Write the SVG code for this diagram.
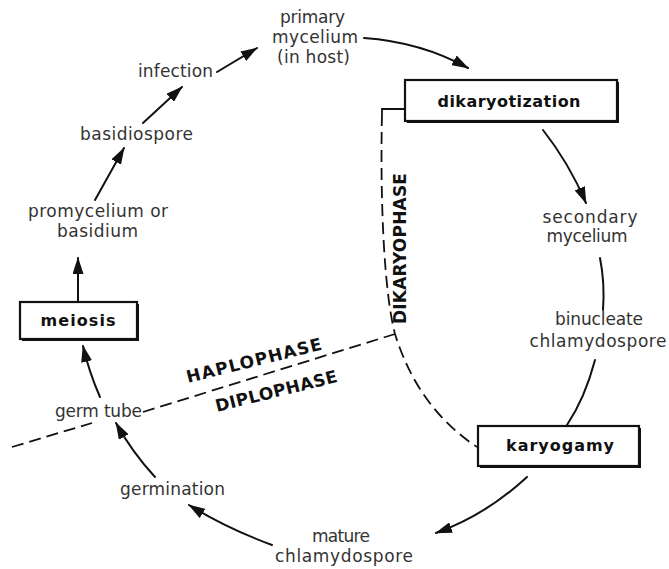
<svg xmlns="http://www.w3.org/2000/svg" width="669" height="569" viewBox="0 0 669 569">
<style>
.t{font-family:"DejaVu Sans","Liberation Sans",sans-serif;font-size:17px;fill:#333;text-anchor:middle}
.b{font-family:"DejaVu Sans","Liberation Sans",sans-serif;font-size:16px;font-weight:bold;fill:#111;text-anchor:middle}
.ph{font-family:"DejaVu Sans","Liberation Sans",sans-serif;font-size:17px;font-weight:bold;fill:#111}
.box{fill:#fff;stroke:#111;stroke-width:2.2}
.sh{fill:none;stroke:#111;stroke-width:2}
.c{fill:none;stroke:#111;stroke-width:2;stroke-linecap:round}
.a{marker-end:url(#ah)}
.d{fill:none;stroke:#111;stroke-width:1.8;stroke-dasharray:12 6}
</style>
<defs>
<marker id="ah" viewBox="0 0 17 11" refX="16" refY="5.5" markerWidth="17" markerHeight="11" markerUnits="userSpaceOnUse" orient="auto">
<path d="M0,0 L17,5.5 L0,11 z" fill="#111"/>
</marker>
</defs>
<rect width="669" height="569" fill="#fff"/>

<g id="connectors">
<path class="c a" d="M217,72 L257,48"/>
<path class="c a" d="M143,123 L182,87"/>
<path class="c a" d="M95,200 L124,148"/>
<path class="c a" d="M78,301 L78,258"/>
<path class="c a" d="M100,397 Q89,372 83,346"/>
<path class="c a" d="M155,477 Q132,452 116,423"/>
<path class="c a" d="M272,545 Q226,528 189,505"/>
<path class="c a" d="M527,477 Q486,515 436,533"/>
<path class="c" d="M595,360 Q585,398 567,425"/>
<path class="c" d="M600,258 Q605,283 603,310"/>
<path class="c a" d="M543,130 Q569,163 586,203"/>
<path class="c a" d="M364,38 Q421,42 468,68"/>
<path class="d" d="M12,447 L92,423"/>
<path class="d" d="M143,412 L395,334"/>
<path d="M405,109 L382,109 L382,114" fill="none" stroke="#111" stroke-width="1.8"/>
<path class="d" d="M382,114 C380,200 384,292 395,334 Q418,408 477,447"/>
</g>

<g id="primary-mycelium">
<text class="t" x="312.5" y="23" textLength="65">primary</text>
<text class="t" x="315" y="43" textLength="86">mycelium</text>
<text class="t" x="313.5" y="63" textLength="73">(in host)</text>
</g>
<g id="infection"><text class="t" x="175.5" y="77" textLength="75">infection</text></g>
<g id="basidiospore"><text class="t" x="136.5" y="140" textLength="113">basidiospore</text></g>
<g id="promycelium">
<text class="t" x="98" y="217" textLength="140">promycelium or</text>
<text class="t" x="97.5" y="237" textLength="81">basidium</text>
</g>
<g id="meiosis">
<rect class="box" x="20" y="302" width="117" height="37"/>
<path class="sh" d="M138,304 L138,340 L22,340"/>
<text class="b" x="78" y="326" textLength="75">meiosis</text>
</g>
<g id="germ-tube"><text class="t" x="98.5" y="417" textLength="87">germ tube</text></g>
<g id="germination"><text class="t" x="172.5" y="495" textLength="105">germination</text></g>
<g id="mature-chlamydospore">
<text class="t" x="341" y="542" textLength="58">mature</text>
<text class="t" x="344" y="562" textLength="138">chlamydospore</text>
</g>
<g id="karyogamy">
<rect class="box" x="478" y="426" width="161" height="40"/>
<path class="sh" d="M640,428 L640,467 L480,467"/>
<text class="b" x="560" y="451" textLength="108">karyogamy</text>
</g>
<g id="binucleate-chlamydospore">
<text class="t" x="599" y="325" textLength="88">binucleate</text>
<text class="t" x="598" y="347" textLength="137">chlamydospore</text>
</g>
<g id="secondary-mycelium">
<text class="t" x="590" y="223" textLength="95">secondary</text>
<text class="t" x="587" y="242" textLength="81">mycelium</text>
</g>
<g id="dikaryotization">
<rect class="box" x="405" y="80" width="212" height="41"/>
<path class="sh" d="M618,82 L618,122 L407,122"/>
<text class="b" x="509" y="107" textLength="143">dikaryotization</text>
</g>

<g id="phase-labels">
<text class="ph" transform="translate(188,383) rotate(-14)" textLength="139">HAPLOPHASE</text>
<text class="ph" transform="translate(217,412) rotate(-14)" textLength="125">DIPLOPHASE</text>
<text class="ph" transform="translate(406,324) rotate(-90)" textLength="151">DIKARYOPHASE</text>
</g>
</svg>
